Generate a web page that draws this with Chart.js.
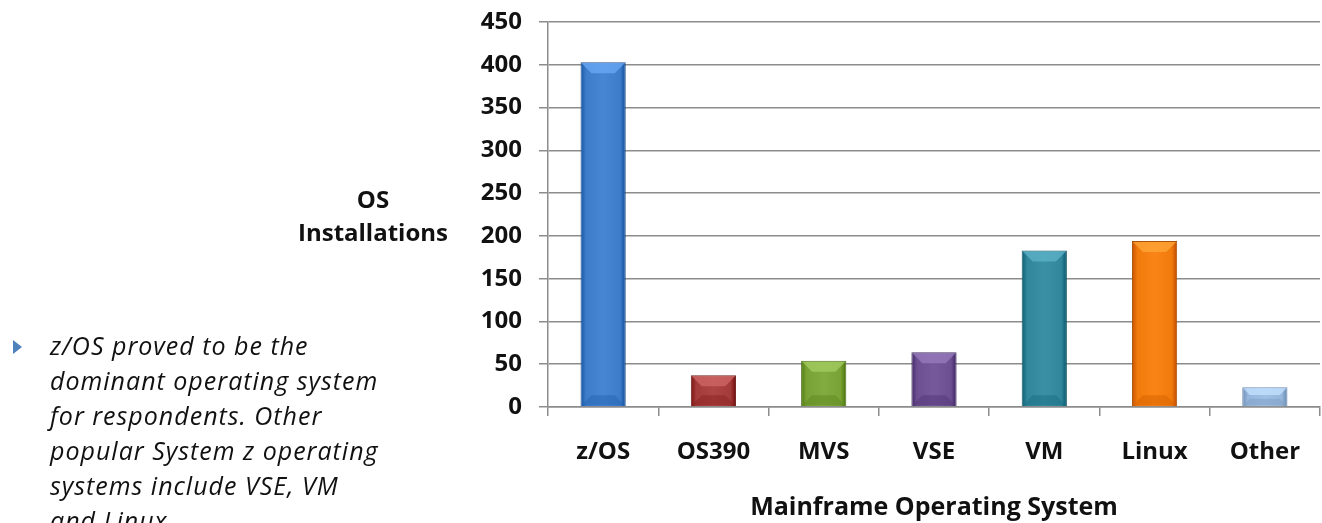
<!DOCTYPE html>
<html>
<head>
<meta charset="utf-8">
<script src="https://cdn.jsdelivr.net/npm/chart.js@4/dist/chart.umd.min.js"></script>
<style>
  html, body { margin: 0; padding: 0; background: #fff; overflow: hidden; }
  #wrap { position: absolute; left: 0; top: 0; width: 1322px; height: 523px; }
  #yTitle {
    position: absolute; left: 278px; top: 182px; width: 190px;
    font: bold 24px "Open Sans", sans-serif; text-align: center; line-height: 33px; color: #111;
  }
  #note {
    position: absolute; left: 50px; top: 328px; width: 400px; white-space: nowrap;
    font: italic 25px "Open Sans", sans-serif; letter-spacing: 1px; line-height: 35px; color: #111;
  }
  #bullet {
    position: absolute; left: 13px; top: 340px; width: 0; height: 0;
    border-top: 7px solid transparent; border-bottom: 7px solid transparent;
    border-left: 9px solid #4f81bd;
  }
</style>
</head>
<body>
<div id="wrap"><canvas id="osChart" width="1322" height="523"></canvas></div>
<div id="yTitle">OS<br>Installations</div>
<div id="bullet"></div>
<div id="note">z/OS proved to be the<br>dominant operating system<br>for respondents. Other<br>popular System z operating<br>systems include VSE, VM<br>and Linux.</div>
<script>
const osNames = ['z/OS', 'OS390', 'MVS', 'VSE', 'VM', 'Linux', 'Other'];
const installs = [403, 37, 54, 64, 183, 194, 23];
const barColors = ['#3d7cc9', '#a33b3a', '#78a136', '#6b4f90', '#31869b', '#f07a0c', '#97b6dc'];
const edgeColors = ['#244f8a', '#6e2423', '#4e6c20', '#453260', '#1e5767', '#a8520a', '#6d8cb3'];
const barPct = 0.41;

function shade(hex, amt) {
  const n = parseInt(hex.slice(1), 16);
  const c = (v) => Math.max(0, Math.min(255, v + amt));
  return `rgb(${c(n >> 16)},${c((n >> 8) & 255)},${c(n & 255)})`;
}

// bevelled top/bottom, like the office 3D bar style
const bevelPlugin = {
  id: 'bevel',
  afterDatasetsDraw(chart) {
    const c = chart.ctx;
    chart.getDatasetMeta(0).data.forEach((bar, i) => {
      const { x, y, base, width } = bar.getProps(['x', 'y', 'base', 'width'], true);
      const l = x - width / 2, r = x + width / 2;
      const d = Math.min(11, (base - y) / 2.5);
      c.save();
      c.fillStyle = shade(barColors[i], 45);
      c.globalAlpha = 0.75;
      c.beginPath();
      c.moveTo(l + 1, y + 1); c.lineTo(r - 1, y + 1); c.lineTo(r - d, y + d); c.lineTo(l + d, y + d);
      c.closePath(); c.fill();
      c.fillStyle = shade(barColors[i], -25);
      c.globalAlpha = 0.5;
      c.beginPath();
      c.moveTo(l + 1, base - 1); c.lineTo(r - 1, base - 1); c.lineTo(r - d, base - d); c.lineTo(l + d, base - d);
      c.closePath(); c.fill();
      c.restore();
    });
  }
};

const ctx = document.getElementById('osChart').getContext('2d');

const osChart = new Chart(ctx, {
  type: 'bar',
  data: {
    labels: osNames,
    datasets: [{
      data: installs,
      backgroundColor: (c) => {
        const chart = c.chart;
        const i = c.dataIndex || 0;
        const base = barColors[i];
        const xs = chart.scales && chart.scales.x;
        if (!chart.chartArea || !xs) return base;
        const cx = xs.getPixelForValue(i);
        const half = (chart.chartArea.width / osNames.length) * barPct / 2;
        const g = chart.ctx.createLinearGradient(cx - half, 0, cx + half, 0);
        g.addColorStop(0, shade(base, -40));
        g.addColorStop(0.12, base);
        g.addColorStop(0.5, shade(base, 10));
        g.addColorStop(0.88, base);
        g.addColorStop(1, shade(base, -50));
        return g;
      },
      borderColor: edgeColors,
      borderWidth: 1,
      barPercentage: barPct,
      categoryPercentage: 1.0,
    }]
  },
  options: {
    responsive: false,
    animation: false,
    layout: { padding: { left: 470, top: 22, right: 2, bottom: 0 } },
    plugins: {
      legend: { display: false },
      tooltip: { enabled: false },
    },
    scales: {
      x: {
        grid: { drawOnChartArea: false, drawTicks: true, tickLength: 9, color: '#8c8c8c', lineWidth: 1.5 },
        border: { color: '#8c8c8c', width: 1.5 },
        ticks: { color: '#111', font: { family: 'Open Sans', size: 24, weight: 'bold' }, padding: 22, maxRotation: 0 },
        title: {
          display: true, text: 'Mainframe Operating System', color: '#111',
          font: { family: 'Open Sans', size: 25, weight: 'bold' }, padding: { top: 0, bottom: 0 }
        },
        afterFit: (s) => { s.height = 116; s.paddingLeft = 0; s.paddingRight = 0; },
      },
      y: {
        min: 0, max: 450,
        ticks: { stepSize: 50, color: '#111', font: { family: 'Open Sans', size: 24, weight: 'bold' }, padding: 17 },
        grid: { color: '#8c8c8c', lineWidth: 1.5, tickLength: 9 },
        border: { color: '#8c8c8c', width: 1.5 },
        afterFit: (s) => { s.width = 78; s.paddingTop = 0; s.paddingBottom = 0; },
      }
    }
  },
  plugins: [bevelPlugin]
});
</script>
</body>
</html>
